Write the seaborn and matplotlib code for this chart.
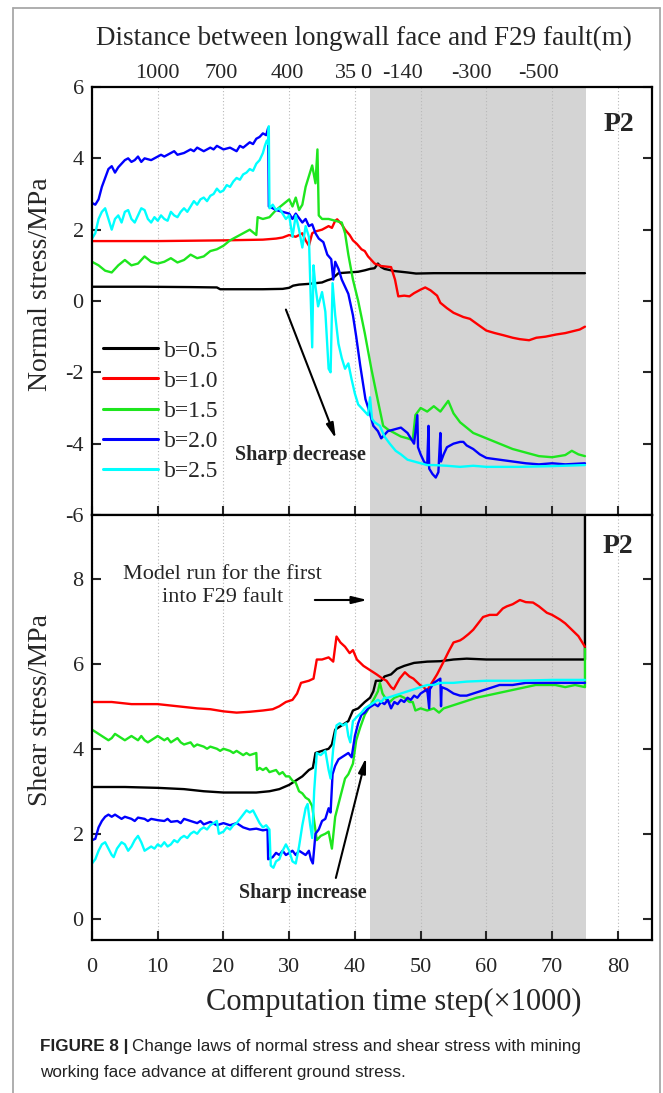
import matplotlib
matplotlib.use("Agg")
import matplotlib.pyplot as plt
import numpy as np
import pandas as pd
import seaborn as sns

# ---------------- data ----------------
series_labels = ["b=0.5", "b=1.0", "b=1.5", "b=2.0", "b=2.5"]
series_colors = ["#000000", "#ff0000", "#1ee61e", "#0000ff", "#00ffff"]

# top x-axis (distance between longwall face and F29 fault, m)
dist_labels = ["1000", "700", "400", "35", "0", "-140", "-300", "-500"]
dist_pos = [10, 19.7, 29.7, 38.7, 41.7, 47.3, 57.7, 67.9]

# fault zone (computation step x1000)
fault_zone = (42.3, 75.2)

# Normal stress (MPa) vs computation step (x1000)
normal_b05 = [(0, 0.40), (8, 0.40), (15, 0.39), (19, 0.38), (19.5, 0.33), (26, 0.33), (29, 0.34), (30, 0.37),
              (30.6, 0.43), (31.5, 0.46), (33, 0.48), (35, 0.52), (35.8, 0.58), (36.5, 0.62), (37.5, 0.78),
              (39, 0.80), (40.5, 0.82), (41.5, 0.86), (42.3, 0.90), (43, 0.92), (43.5, 1.05), (44, 0.95),
              (44.5, 0.90), (46, 0.84), (48, 0.80), (49.3, 0.77), (52, 0.78), (60, 0.78), (75, 0.78)]
normal_b10 = [(0, 1.68), (10, 1.68), (20, 1.70), (26, 1.72), (28, 1.75), (29, 1.78), (30, 1.85), (31, 1.80),
              (32, 1.90), (32.5, 1.70), (33, 1.55), (33.5, 1.90), (34, 1.95), (35, 2.0), (36, 2.1), (36.5, 2.05),
              (37, 2.25), (37.3, 2.29), (38, 2.15), (38.5, 2.0), (39.2, 1.85), (39.7, 1.7), (40.3, 1.6),
              (41, 1.45), (41.5, 1.4), (42, 1.25), (43, 1.05), (44, 0.98), (45.5, 0.95), (46.1, 0.6),
              (46.6, 0.13), (47.5, 0.15), (48.3, 0.13), (49, 0.22), (50, 0.32), (50.7, 0.38), (51.5, 0.30),
              (52.5, 0.15), (53, -0.05), (54, -0.2), (55, -0.33), (56.5, -0.45), (57.5, -0.5), (59, -0.7),
              (60, -0.83), (61.3, -0.9), (62.6, -0.96), (64, -1.03), (65.1, -1.07), (66.5, -1.1),
              (67.6, -1.03), (69, -1.0), (70.6, -0.94), (72, -0.9), (73.1, -0.85), (74.2, -0.8), (75, -0.72)]
normal_b15 = [(0, 1.1), (1, 1.0), (2, 0.85), (3, 0.8), (4, 1.0), (5, 1.15), (6, 1.0), (7, 1.05), (8, 1.25),
              (9, 1.1), (10, 1.05), (11, 1.1), (12, 1.2), (13, 1.08), (14, 1.15), (15, 1.3), (16, 1.2),
              (17, 1.25), (18, 1.4), (19, 1.45), (20, 1.55), (21, 1.7), (22, 1.8), (23, 1.9), (24, 2.0),
              (25, 1.85), (25.2, 2.35), (26, 2.3), (27, 2.35), (28, 2.55), (29, 2.7), (30, 2.85), (30.5, 2.65),
              (31, 2.9), (31.5, 2.55), (32, 2.7), (32.5, 3.2), (33, 3.5), (33.5, 3.8), (34, 3.3), (34.3, 4.25),
              (34.5, 2.4), (35, 2.3), (36, 2.3), (37, 2.25), (38, 2.2), (38.5, 1.9), (39, 1.3), (39.7, 0.6),
              (40.5, 0.0), (41.5, -0.9), (42.5, -1.9), (43.5, -2.8), (44.3, -3.5), (45, -3.6), (46, -3.7),
              (47, -3.8), (48, -3.85), (48.8, -3.9), (49.2, -3.2), (50, -3.0), (51, -3.1), (52, -2.95),
              (53, -3.1), (54.2, -2.8), (55, -3.15), (56, -3.4), (57, -3.55), (58, -3.7), (60, -3.85),
              (62, -4.0), (64, -4.15), (66, -4.25), (68, -4.35), (70, -4.38), (72, -4.32), (73, -4.2),
              (74, -4.3), (75, -4.35)]
normal_b20 = [(0, 2.75), (0.5, 2.7), (1, 2.85), (1.5, 3.2), (2, 3.45), (2.5, 3.7), (3, 3.78), (3.5, 3.6),
              (4, 3.75), (4.5, 3.85), (5, 3.95), (5.5, 4.0), (6, 3.9), (6.5, 3.95), (7, 4.05), (7.5, 3.9),
              (8, 4.0), (9, 3.95), (10, 4.05), (10.5, 4.1), (11, 4.05), (12, 4.15), (12.5, 4.2), (13, 4.1),
              (14, 4.15), (15, 4.25), (15.5, 4.2), (16, 4.3), (17, 4.2), (18, 4.3), (18.5, 4.25), (19, 4.35),
              (20, 4.25), (21, 4.3), (22, 4.2), (22.5, 4.35), (23, 4.3), (24, 4.45), (24.5, 4.4), (25, 4.55),
              (25.5, 4.6), (26, 4.7), (26.5, 4.65), (26.8, 4.85), (26.9, 2.65), (27.5, 2.6), (28, 2.55),
              (29, 2.5), (30, 2.45), (30.5, 2.3), (31, 2.45), (32, 2.2), (32.5, 2.3), (33, 2.1), (33.5, 2.15),
              (34, 1.9), (34.5, 1.75), (35.2, 1.65), (35.8, 1.3), (36.4, 1.17), (36.7, 0.6), (37, 1.1),
              (37.5, 0.9), (38, 0.6), (38.5, 0.4), (39, 0.2), (39.7, -0.4), (40.2, -1.0), (40.8, -1.8),
              (41.6, -2.75), (42.2, -3.1), (42.8, -3.5), (43.5, -3.65), (44, -3.85), (44.5, -3.75),
              (45, -3.65), (46, -3.6), (47, -3.55), (48, -3.7), (48.5, -3.85), (49, -4.0), (49.5, -3.2),
              (49.6, -4.1), (50, -4.3), (50.5, -4.5), (51, -4.6), (51.2, -3.5), (51.3, -4.7), (51.8, -4.85),
              (52.3, -4.95), (52.7, -4.8), (53, -3.7), (53.1, -4.5), (53.5, -4.3), (54, -4.1), (55, -4.0),
              (56, -3.95), (56.5, -3.95), (57, -4.05), (58, -4.15), (59, -4.3), (60, -4.4), (62, -4.45),
              (64, -4.5), (66, -4.55), (68, -4.58), (70, -4.55), (72, -4.58), (75, -4.55)]
normal_b25 = [(0, 1.75), (0.5, 1.9), (1, 2.3), (1.5, 2.5), (2, 2.6), (2.5, 2.3), (3, 2.0), (3.5, 2.3),
              (4, 2.4), (4.5, 2.2), (5, 2.5), (5.5, 2.55), (6, 2.3), (6.5, 2.2), (7, 2.4), (7.5, 2.6),
              (8, 2.55), (8.5, 2.3), (9, 2.2), (9.5, 2.35), (10, 2.25), (10.5, 2.4), (11, 2.3), (11.5, 2.25),
              (12, 2.5), (12.5, 2.4), (13, 2.35), (13.5, 2.5), (14, 2.6), (14.5, 2.5), (15, 2.65), (15.5, 2.8),
              (16, 2.7), (16.5, 2.85), (17, 2.9), (17.5, 2.8), (18, 2.95), (18.5, 3.0), (19, 3.15), (19.5, 3.05),
              (20, 3.1), (20.5, 3.25), (21, 3.2), (21.5, 3.35), (22, 3.45), (22.5, 3.4), (23, 3.55), (23.5, 3.6),
              (24, 3.7), (24.5, 3.65), (25, 3.85), (25.5, 3.95), (26, 4.15), (26.3, 4.35), (26.6, 4.5),
              (26.8, 4.4), (26.9, 4.9), (27.0, 2.6), (27.5, 2.7), (28, 2.55), (28.5, 2.6), (29, 2.45),
              (29.5, 2.3), (30, 2.4), (30.5, 1.8), (31, 2.4), (31.5, 2.0), (32, 1.5), (32.5, 2.1), (33, 1.8),
              (33.5, -1.3), (33.7, 1.0), (34, 0.4), (34.4, -0.15), (35, 0.25), (35.5, -0.3), (36, -1.9),
              (36.3, -2.0), (36.6, 0.5), (37, -0.4), (37.5, -1.2), (38, -1.6), (38.5, -1.9), (39, -1.75),
              (39.5, -2.2), (40, -2.6), (40.5, -2.9), (41, -3.0), (41.5, -3.1), (42, -3.2), (42.3, -2.7),
              (42.6, -3.3), (43, -3.4), (43.8, -3.5), (44.5, -3.8), (45.3, -4.0), (46.2, -4.2), (47, -4.3),
              (48, -4.45), (49, -4.5), (50, -4.55), (51, -4.6), (52, -4.6), (54, -4.62), (56, -4.65),
              (58, -4.62), (60, -4.65), (65, -4.65), (70, -4.63), (75, -4.6)]

# Shear stress (MPa) vs computation step (x1000)
shear_b05 = [(0, 3.1), (5, 3.1), (10, 3.08), (14, 3.05), (17, 3.0), (20, 2.97), (25, 2.97), (27, 3.0),
             (28.5, 3.05), (30, 3.15), (31, 3.25), (32, 3.35), (33, 3.5), (33.6, 3.55), (34, 3.9), (35, 3.95),
             (36, 4.0), (36.5, 4.1), (37, 4.45), (38, 4.55), (39, 4.65), (39.7, 4.9), (40.5, 4.95), (41.5, 5.1),
             (42.3, 5.2), (42.8, 5.35), (43.2, 5.6), (44, 5.6), (44.5, 5.7), (45.5, 5.75), (46.4, 5.88),
             (47.5, 5.95), (49, 6.02), (51, 6.05), (53, 6.06), (55, 6.1), (57, 6.12), (60, 6.1), (65, 6.1),
             (70, 6.1), (75, 6.1), (75, 9.5)]
shear_b10 = [(0, 5.1), (3, 5.1), (6, 5.05), (10, 5.05), (13, 5.0), (16, 4.95), (18, 4.93), (20, 4.88),
             (22, 4.85), (24, 4.87), (26, 4.9), (27.5, 4.93), (28.5, 5.0), (29.5, 5.1), (30.5, 5.15),
             (31.2, 5.3), (31.8, 5.55), (33, 5.6), (33.7, 5.65), (34.2, 6.1), (35, 6.1), (36, 6.15),
             (36.7, 6.05), (37.2, 6.64), (37.8, 6.5), (38.5, 6.4), (39.2, 6.25), (39.7, 6.32), (40.3, 6.1),
             (41.3, 5.95), (42.3, 5.85), (43.3, 5.75), (44.2, 5.65), (44.8, 5.6), (45.5, 5.45), (45.9, 5.4),
             (46.8, 5.65), (47.6, 5.8), (48.3, 5.7), (48.9, 5.65), (49.9, 5.5), (50.5, 5.45), (50.9, 5.35),
             (51.5, 5.5), (52.5, 5.75), (53.5, 6.05), (54.3, 6.3), (55, 6.5), (56, 6.55), (56.5, 6.6),
             (57.3, 6.7), (58, 6.8), (59.5, 7.1), (60.5, 7.15), (61.6, 7.15), (62.5, 7.3), (63.1, 7.35),
             (64, 7.4), (65.1, 7.5), (66, 7.45), (67.1, 7.44), (68, 7.35), (69.2, 7.2), (70, 7.15),
             (71.2, 7.04), (72, 6.95), (73.2, 6.77), (74, 6.65), (75, 6.4)]
shear_b15 = [(0, 4.45), (0.5, 4.4), (1, 4.35), (2, 4.25), (2.5, 4.2), (3, 4.25), (3.5, 4.35), (4, 4.3),
             (4.5, 4.25), (5, 4.2), (5.5, 4.25), (6, 4.3), (6.5, 4.25), (7, 4.2), (7.5, 4.3), (8, 4.2),
             (8.5, 4.15), (9, 4.2), (10, 4.3), (10.5, 4.25), (11, 4.2), (11.5, 4.25), (12, 4.15), (12.5, 4.2),
             (13, 4.25), (13.5, 4.15), (14, 4.1), (15, 4.15), (15.5, 4.05), (16, 4.1), (17, 4.05), (17.5, 4.0),
             (18, 4.05), (19, 4.0), (19.5, 3.95), (20, 4.0), (21, 3.95), (21.5, 3.9), (22, 3.95), (23, 3.85),
             (23.5, 3.9), (24, 3.85), (25, 3.9), (25.1, 3.5), (25.5, 3.55), (26, 3.5), (26.5, 3.55), (27, 3.45),
             (28, 3.5), (28.5, 3.4), (29, 3.45), (29.5, 3.35), (30, 3.35), (30.5, 3.25), (31, 3.2), (31.5, 3.0),
             (32, 2.95), (32.5, 2.85), (33, 2.8), (33.5, 2.65), (33.8, 2.3), (34.2, 1.85), (34.8, 1.95),
             (35.5, 2.0), (36, 2.05), (36.5, 1.65), (37, 2.4), (37.5, 2.7), (38, 3.0), (38.5, 3.3), (39, 3.4),
             (39.7, 3.65), (40.2, 4.2), (40.8, 4.5), (41.5, 4.8), (42.3, 5.0), (43, 5.2), (43.5, 5.35),
             (43.8, 5.55), (44.2, 5.3), (44.8, 5.15), (45.3, 5.1), (46, 5.2), (46.8, 5.25), (47.5, 5.2),
             (48.3, 5.1), (48.8, 5.1), (49.2, 4.9), (50, 4.95), (51, 4.9), (52, 4.95), (52.8, 4.85),
             (53.5, 4.95), (54.5, 5.0), (55.5, 5.05), (56.5, 5.1), (57.5, 5.15), (58.5, 5.2), (60, 5.25),
             (61.5, 5.3), (63, 5.35), (64.5, 5.4), (66, 5.45), (67.5, 5.5), (69, 5.5), (70.5, 5.5), (72, 5.45),
             (73.5, 5.5), (75, 5.45), (75, 6.35)]
shear_b20 = [(0, 1.85), (0.5, 1.88), (1, 2.15), (1.5, 2.3), (2, 2.4), (2.5, 2.45), (3, 2.4), (3.5, 2.45),
             (4, 2.4), (4.5, 2.35), (5, 2.4), (6, 2.35), (6.5, 2.3), (7, 2.38), (8, 2.35), (8.5, 2.3),
             (9, 2.35), (10, 2.32), (11, 2.3), (11.5, 2.35), (12, 2.28), (13, 2.3), (13.5, 2.25), (14, 2.35),
             (15, 2.3), (16, 2.25), (16.5, 2.3), (17, 2.22), (18, 2.28), (19, 2.2), (20, 2.25), (21, 2.2),
             (22, 2.25), (23, 2.15), (24, 2.1), (25, 2.12), (26, 2.08), (26.7, 2.1), (26.8, 1.4), (27.5, 1.45),
             (28, 1.55), (28.5, 1.5), (29, 1.6), (29.5, 1.5), (30, 1.55), (30.5, 1.6), (31, 1.5), (31.5, 1.6),
             (32, 1.55), (32.5, 1.5), (33, 1.6), (33.3, 1.4), (33.6, 1.3), (34, 2.0), (34.5, 2.1), (35, 2.3),
             (35.5, 2.35), (36, 2.6), (36.3, 2.5), (36.6, 3.4), (37, 3.6), (37.5, 3.75), (38, 3.8), (38.5, 3.85),
             (39, 3.9), (39.5, 3.8), (40, 4.3), (40.5, 4.6), (41, 4.8), (41.5, 4.85), (42, 4.95), (42.5, 5.0),
             (43, 5.05), (43.5, 5.0), (44, 5.1), (44.5, 5.05), (45, 5.15), (45.5, 4.95), (46, 5.1),
             (46.5, 5.05), (47, 5.15), (47.5, 5.1), (48, 5.2), (48.5, 5.15), (49, 5.25), (49.5, 5.2), (50, 5.3),
             (50.5, 5.35), (51, 5.4), (51.3, 4.95), (51.4, 5.4), (52, 5.55), (52.5, 5.6), (53, 5.65),
             (53.1, 5.0), (53.2, 5.45), (54, 5.4), (55, 5.3), (56, 5.25), (57, 5.25), (58, 5.3), (59, 5.35),
             (60, 5.4), (61, 5.45), (62, 5.5), (64, 5.5), (66, 5.55), (68, 5.55), (70, 5.55), (72, 5.55),
             (75, 5.55)]
shear_b25 = [(0, 1.3), (0.5, 1.4), (1, 1.6), (1.5, 1.75), (2, 1.8), (2.5, 1.65), (3, 1.5), (3.3, 1.45),
             (3.8, 1.65), (4.5, 1.8), (5, 1.75), (5.5, 1.6), (6, 1.7), (6.5, 1.85), (7, 1.95), (7.5, 1.8),
             (8, 1.6), (8.5, 1.65), (9, 1.7), (9.5, 1.65), (10, 1.75), (10.5, 1.7), (11, 1.8), (11.5, 1.7),
             (12, 1.75), (12.5, 1.85), (13, 1.8), (13.5, 1.9), (14, 1.95), (14.5, 1.9), (15, 2.0), (15.5, 2.05),
             (16, 2.0), (16.5, 2.1), (17, 2.15), (17.5, 2.1), (18, 2.2), (18.5, 2.25), (19, 2.3), (19.3, 2.0),
             (20, 2.05), (20.5, 2.15), (21, 2.1), (21.5, 2.2), (22, 2.25), (22.5, 2.35), (23, 2.45),
             (23.5, 2.55), (24, 2.5), (24.5, 2.55), (25, 2.4), (25.5, 2.25), (26, 2.15), (26.5, 2.2), (27, 2.1),
             (27.2, 1.25), (27.6, 1.2), (28, 1.35), (28.5, 1.4), (29, 1.6), (29.5, 1.75), (30, 1.6), (30.5, 1.35),
             (31, 1.3), (31.5, 1.7), (32, 2.2), (32.5, 2.6), (32.8, 2.7), (33.2, 2.2), (33.5, 1.9), (33.8, 3.0),
             (34.2, 3.9), (34.8, 3.85), (35.5, 3.95), (36, 3.5), (36.3, 3.3), (36.7, 4.0), (37.2, 4.55),
             (37.7, 4.6), (38.2, 4.55), (38.7, 4.6), (39.0, 4.3), (39.3, 4.15), (39.7, 4.65), (40.3, 4.75),
             (41, 4.85), (41.5, 4.95), (42, 5.0), (42.5, 5.05), (43, 5.1), (43.5, 5.15), (44, 5.1), (44.5, 5.2),
             (45, 5.2), (46, 5.25), (47, 5.3), (48, 5.35), (49, 5.4), (50, 5.45), (51, 5.5), (52, 5.5),
             (53, 5.55), (55, 5.55), (57, 5.58), (60, 5.6), (65, 5.6), (70, 5.62), (75, 5.62)]

normal_series = [normal_b05, normal_b10, normal_b15, normal_b20, normal_b25]
shear_series = [shear_b05, shear_b10, shear_b15, shear_b20, shear_b25]


def long_frame(series_list):
    frames = []
    for lab, pts in zip(series_labels, series_list):
        arr = np.array(pts, dtype=float)
        frames.append(pd.DataFrame({"step": arr[:, 0], "stress": arr[:, 1], "b": lab}))
    return pd.concat(frames, ignore_index=True)


df_normal = long_frame(normal_series)
df_shear = long_frame(shear_series)
palette = dict(zip(series_labels, series_colors))

# ---------------- style ----------------
sns.set_style("white")
plt.rcParams["font.family"] = ["Liberation Serif", "DejaVu Serif"]
plt.rcParams["axes.linewidth"] = 1.6
plt.rcParams["axes.unicode_minus"] = False

W, H = 663, 1093
fig = plt.figure(figsize=(W / 100, H / 100), dpi=100)

left, right = 92, 652
top1, mid, bot2 = 87, 515, 940
ax1 = fig.add_axes([left / W, 1 - mid / H, (right - left) / W, (mid - top1) / H])
ax2 = fig.add_axes([left / W, 1 - bot2 / H, (right - left) / W, (bot2 - mid) / H])

xlim = (0, 85.2)
for ax in (ax1, ax2):
    ax.axvspan(*fault_zone, color="#d4d4d4", zorder=0, lw=0)
    ax.set_xlim(*xlim)
    ax.set_xticks(range(0, 90, 10))
    ax.set_axisbelow(True)
    ax.xaxis.grid(True, linestyle=(0, (1, 2)), color="#b8b8b8", lw=0.8)
    ax.yaxis.grid(False)
    for s in ax.spines.values():
        s.set_color("black")
        s.set_linewidth(1.6)

sns.lineplot(data=df_normal, x="step", y="stress", hue="b", palette=palette, sort=False,
             estimator=None, units="b", ax=ax1, lw=1.7, legend=True)
sns.lineplot(data=df_shear, x="step", y="stress", hue="b", palette=palette, sort=False,
             estimator=None, units="b", ax=ax2, lw=1.7, legend=False)

ax1.set_ylim(-6, 6)
ax1.set_yticks(range(-6, 7, 2))
ax2.set_ylim(-0.5, 9.5)
ax2.set_yticks(range(0, 10, 2))

tick_kw = dict(direction="in", length=6.5, width=1.5, labelsize=16)
ax1.tick_params(axis="x", which="both", top=True, bottom=True, labelbottom=False, labeltop=False, **tick_kw)
ax1.tick_params(axis="y", left=True, right=True, labelright=False, pad=6, **tick_kw)
ax2.tick_params(axis="x", top=False, bottom=True, labelbottom=True, pad=13, **tick_kw)
ax2.tick_params(axis="y", left=True, right=True, labelright=False, pad=6, **tick_kw)

ax1.set_xlabel("")
ax1.set_ylabel("Normal stress/MPa", fontsize=20)
ax1.yaxis.set_label_coords(-0.07, 0.54)
ax2.set_ylabel("Shear stress/MPa", fontsize=20)
ax2.yaxis.set_label_coords(-0.07, 0.54)
ax2.set_xlabel("Computation time step(\u00d71000)", fontsize=22)
ax2.xaxis.set_label_coords(0.539, -0.112)

# top distance axis
ax1t = ax1.twiny()
ax1t.set_xlim(*xlim)
ax1t.set_xticks(dist_pos)
ax1t.set_xticklabels(dist_labels)
ax1t.tick_params(axis="x", length=0, labelsize=16, pad=3)
for s in ax1t.spines.values():
    s.set_visible(False)
ax1t.set_xlabel("Distance between longwall face and F29 fault(m)", fontsize=19.5)
ax1t.xaxis.set_label_coords(0.485, 1.097)

# legend
handles, labels = ax1.get_legend_handles_labels()
for h in handles:
    h.set_linewidth(2.2)
leg = ax1.legend(handles, labels, loc="center left", bbox_to_anchor=(103 / W, 1 - 411 / H),
                 bbox_transform=fig.transFigure, frameon=False, fontsize=17, handlelength=2.35,
                 handletextpad=0.25, labelspacing=0.36, borderpad=0, borderaxespad=0)

# panel tags
ax1.text(0.941, 0.913, "P2", transform=ax1.transAxes, ha="center", va="center",
         fontsize=20, fontweight="bold")
ax2.text(0.939, 0.925, "P2", transform=ax2.transAxes, ha="center", va="center",
         fontsize=20, fontweight="bold")

arrow = dict(arrowstyle="-|>,head_length=0.9,head_width=0.22", lw=1.5, color="black",
             shrinkA=0, shrinkB=0)
ax1.annotate("", xy=(37.1, -3.86), xytext=(29.5, -0.24), arrowprops=arrow)
ax1.text(31.7, -4.31, "Sharp decrease", ha="center", va="center", fontsize=14.5, fontweight="bold")

ax2.text(19.9, 7.83, "Model run for the first\ninto F29 fault", ha="center", va="center",
         fontsize=16, linespacing=1.25)
ax2.annotate("", xy=(41.9, 7.5), xytext=(33.9, 7.5), arrowprops=arrow)
ax2.annotate("", xy=(41.7, 3.79), xytext=(37.1, 0.96), arrowprops=arrow)
ax2.text(32.0, 0.61, "Sharp increase", ha="center", va="center", fontsize=14.5, fontweight="bold")

# outer frame
frame_kw = dict(color="#a8a8a8", lw=1.3, transform=fig.transFigure, clip_on=False)
fig.add_artist(plt.Line2D([13 / W, 13 / W], [0, 1 - 8 / H], **frame_kw))
fig.add_artist(plt.Line2D([13 / W, 660 / W], [1 - 8 / H, 1 - 8 / H], **frame_kw))
fig.add_artist(plt.Line2D([660 / W, 660 / W], [0, 1 - 8 / H], **frame_kw))

# caption
cap_font = ["Liberation Sans", "DejaVu Sans"]
cap_size = 12.3
t1 = fig.text(40 / W, 1 - 1046 / H, "FIGURE 8 |", fontsize=cap_size, fontweight="bold",
              family=cap_font, ha="left", va="center", color="#222222")
fig.canvas.draw()
bb = t1.get_window_extent(renderer=fig.canvas.get_renderer())
fig.text((bb.x1 + 4) / W, 1 - 1046 / H, "Change laws of normal stress and shear stress with mining",
         fontsize=cap_size, family=cap_font, ha="left", va="center", color="#222222")
fig.text(40 / W, 1 - 1072 / H, "working face advance at different ground stress.",
         fontsize=cap_size, family=cap_font, ha="left", va="center", color="#222222")

fig.savefig("out.png", dpi=100)
